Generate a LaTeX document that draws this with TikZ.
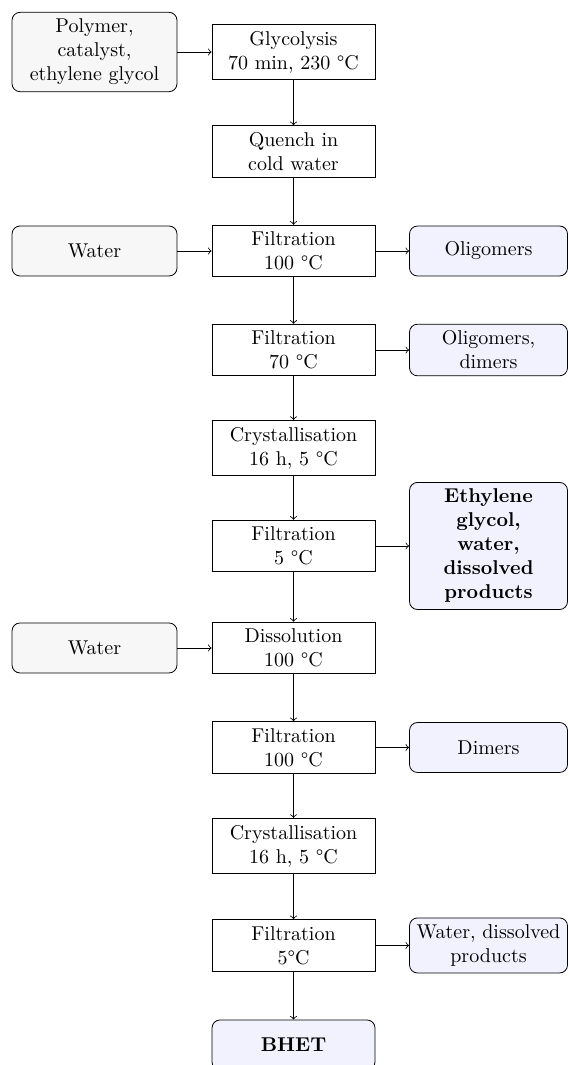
\documentclass[tikz,border=0pt]{standalone}
\usepackage{tikz}

\begin{document}
\begin{tikzpicture}[
	process/.style={draw, fill=white, minimum width=81.5pt, minimum height=25pt, align=center},
	feed/.style={draw, rounded corners, fill=black!3, minimum width=82.5pt, minimum height=25pt, align=center},
	output/.style={draw, rounded corners, fill=blue!5, minimum width=79pt, minimum height=25pt, align=center}]
	\useasboundingbox[clip] (0,0) rectangle (9.982,-18.716);
	
	\node[process] (glyc) at (5.158,-0.914) {Glycolysis\\70 min, 230 \textdegree C};
	\node[process] (quench) at (5.158,-2.662) {Quench in\\cold water};
	\node[process] (filtA) at (5.158,-4.411) {Filtration\\100 \textdegree C};
	\node[process] (filtB) at (5.158,-6.151) {Filtration\\70 \textdegree C};
	\node[process] (crystA) at (5.158,-7.873) {Crystallisation\\16 h, 5 \textdegree C};
	\node[process] (filtC) at (5.158,-9.595) {Filtration\\5 \textdegree C};
	\node[process] (dissol) at (5.158,-11.387) {Dissolution\\100 \textdegree C};
	\node[process] (filtD) at (5.158,-13.136) {Filtration\\100 \textdegree C};
	\node[process] (crystB) at (5.158,-14.867) {Crystallisation\\16 h, 5 \textdegree C};
	\node[process] (filtE) at (5.158,-16.615) {Filtration\\5\textdegree C};
	\node[output, minimum width=81.5pt] (bhet) at (5.158,-18.364) {\textbf{BHET}};
	
	\node[feed] (polymer) at (1.661,-0.914) {Polymer,\\catalyst,\\ethylene glycol};
	\node[feed] (waterA) at (1.661,-4.411) {Water};
	\node[feed] (waterB) at (1.661,-11.387) {Water};
	
	\node[output] (oligo) at (8.585,-4.411) {Oligomers};
	\node[output] (oligodim) at (8.585,-6.151) {Oligomers,\\dimers};
	\node[output] (glycol) at (8.585,-9.595) {\textbf{Ethylene}\\\textbf{glycol,}\\\textbf{water,}\\\textbf{dissolved}\\\textbf{products}};
	\node[output] (dimers) at (8.585,-13.136) {Dimers};
	\node[output] (waterdis) at (8.585,-16.615) {Water, dissolved\\products};
	
	\draw[->] (glyc) -- (quench);
	\draw[->] (quench) -- (filtA);
	\draw[->] (filtA) -- (filtB);
	\draw[->] (filtB) -- (crystA);
	\draw[->] (crystA) -- (filtC);
	\draw[->] (filtC) -- (dissol);
	\draw[->] (dissol) -- (filtD);
	\draw[->] (filtD) -- (crystB);
	\draw[->] (crystB) -- (filtE);
	\draw[->] (filtE) -- (bhet);
	
	\draw[->] (polymer) -- (glyc);
	\draw[->] (waterA) -- (filtA);
	\draw[->] (waterB) -- (dissol);
	
	\draw[->] (filtA) -- (oligo);
	\draw[->] (filtB) -- (oligodim);
	\draw[->] (filtC) -- (glycol);
	\draw[->] (filtD) -- (dimers);
	\draw[->] (filtE) -- (waterdis);
\end{tikzpicture}
\end{document}
